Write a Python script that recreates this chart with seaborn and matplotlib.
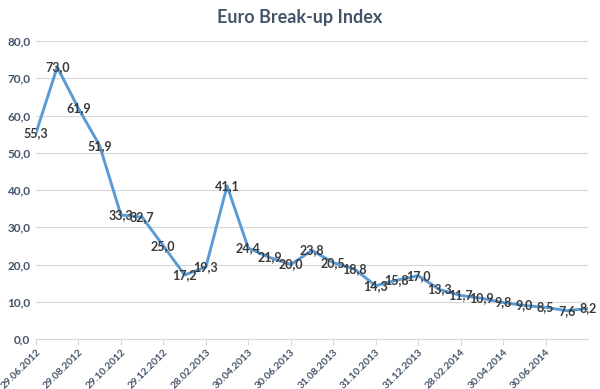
import matplotlib
matplotlib.use("Agg")
import matplotlib.pyplot as plt
import seaborn as sns
import pandas as pd

values = [55.3, 73.0, 61.9, 51.9, 33.3, 32.7, 25.0, 17.2, 19.3, 41.1, 24.4, 21.9,
          20.0, 23.8, 20.5, 18.8, 14.3, 15.8, 17.0, 13.3, 11.7, 10.9, 9.8, 9.0,
          8.5, 7.6, 8.2]
tick_labels = ["29.06.2012", "29.08.2012", "29.10.2012", "29.12.2012", "28.02.2013",
               "30.04.2013", "30.06.2013", "31.08.2013", "31.10.2013", "31.12.2013",
               "28.02.2014", "30.04.2014", "30.06.2014"]
title = "Euro Break-up Index"

df = pd.DataFrame({"idx": range(len(values)), "value": values})

sns.set_style("white")
plt.rcParams["font.family"] = ["Lato", "DejaVu Sans"]

fig = plt.figure(figsize=(6.0, 3.89), dpi=100)
ax = fig.add_axes([0.06, 0.1285, 0.92, 0.7661])

sns.lineplot(data=df, x="idx", y="value", ax=ax, color="#5B9BD5", linewidth=2.1)

label_color = "#3A3A3A"
for i, v in enumerate(values):
    ax.text(i, v, f"{v:.1f}".replace(".", ","), ha="center", va="center",
            fontsize=9, fontweight="bold", color=label_color, zorder=5)

ax.set_xlim(0, len(values) - 1)
ax.set_ylim(0, 80)
ax.set_yticks(range(0, 81, 10))
ax.set_yticklabels([f"{t:.1f}".replace(".", ",") for t in range(0, 81, 10)],
                   fontsize=8.5, fontweight="bold", color="#44546A")
ax.set_xticks(range(0, 2 * len(tick_labels), 2))
ax.set_xticklabels(tick_labels, rotation=45, ha="right", rotation_mode="anchor",
                   fontsize=7.3, fontweight="bold", color="#44546A")
ax.grid(axis="y", color="#D9D9D9", linewidth=0.8)
ax.set_axisbelow(True)
for s in ["top", "right", "left"]:
    ax.spines[s].set_visible(False)
ax.spines["bottom"].set_color("#D9D9D9")
ax.spines["bottom"].set_linewidth(0.8)
ax.tick_params(axis="x", which="major", length=4, color="#D9D9D9", width=0.8, pad=2, bottom=True)
ax.tick_params(axis="y", length=0, pad=4)
ax.set_xlabel("")
ax.set_ylabel("")

fig.text(0.5, 0.955, title, ha="center", va="center", fontsize=13,
         fontweight="bold", color="#44546A")

fig.savefig("out.png", dpi=100)
